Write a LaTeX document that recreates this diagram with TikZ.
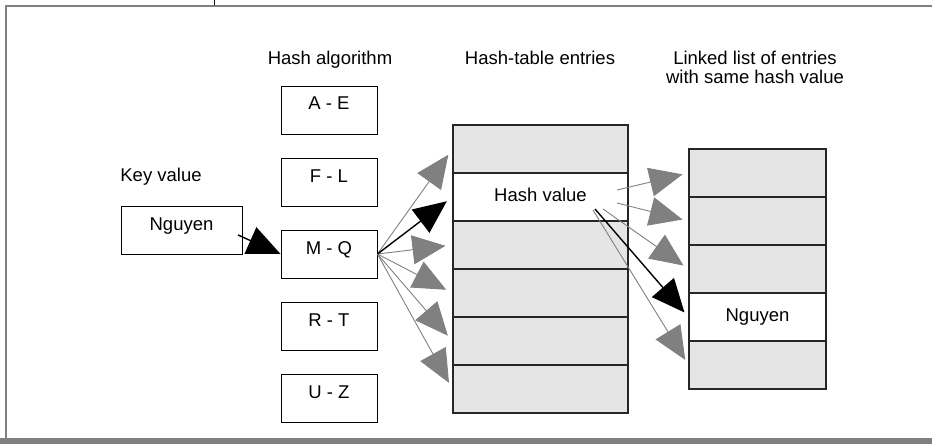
\documentclass[tikz,border=0pt]{standalone}
\usepackage{fontspec}
\setmainfont{Liberation Sans}
\usepackage{tikz}
\usetikzlibrary{positioning}
\usetikzlibrary{arrows.meta,calc}
\tikzstyle{rangebox}=[draw=black,line width=0.9pt,fill=white,minimum width=96pt,minimum height=48pt,inner sep=0pt,text height=13pt,text depth=13pt]
\tikzstyle{keybox}=[rangebox,minimum width=121pt]
\tikzstyle{tablerow}=[draw=black!85,line width=1.2pt,fill=black!10,minimum width=175pt,minimum height=48pt,inner sep=0pt,text height=13pt,text depth=5pt]
\tikzstyle{listrow}=[tablerow,minimum width=137pt]
\tikzstyle{title}=[inner sep=0pt,anchor=base]
\tikzstyle{grayedge}=[draw=gray,line width=0.9pt,-{Triangle[length=33pt,width=29pt]},gray]
\tikzstyle{blackedge}=[draw=black,line width=1.4pt,-{Triangle[length=33pt,width=29pt]}]

\begin{document}
\begin{tikzpicture}[x=1pt,y=-1pt,font=\fontsize{18.5}{19.5}\selectfont]
   \useasboundingbox (0,0) rectangle (932,444);

   % frame
   \draw[gray,line width=2.2pt] (6.3,438) -- (6.3,5.7) -- (932,5.7);
   \fill[gray] (0,437.5) rectangle (932,444);
   \draw[black,line width=0.6pt] (214,0) -- (214,5);

   % titles
   \node[title] (keytitle) at (161,181) {Key value};
   \node[title] (algtitle) at (330,65) {Hash algorithm};
   \node[title] (tabtitle) at (540,65) {Hash-table entries};
   \node[inner sep=0pt,anchor=north,align=center] (listtitle) at (755,50.5) {Linked list of entries\\with same hash value};

   % key and hash algorithm
   \node[keybox] (key) at (181.5,230) {Nguyen};
    \foreach \pos/\name/\label in {{(329,110)/ae/A - E}, {(329,182)/fl/F - L}, {(329,254)/mq/M - Q}, {(329,326)/rt/R - T}, {(329,398)/uz/U - Z}}
            \node[rangebox] (\name) at \pos {\label};

   % hash table
    \foreach \pos/\name in {{(540.5,149)/ht1}, {(540.5,197)/ht2}, {(540.5,245)/ht3}, {(540.5,293)/ht4}, {(540.5,341)/ht5}, {(540.5,389)/ht6}}
            \node[tablerow] (\name) at \pos {};
   \node[tablerow,fill=white] (hv) at (ht2) {Hash value};

   % linked list
    \foreach \pos/\name in {{(757.5,173)/ll1}, {(757.5,221)/ll2}, {(757.5,269)/ll3}, {(757.5,317)/ll4}, {(757.5,365)/ll5}}
            \node[listrow] (\name) at \pos {};
   \node[listrow,fill=white] (hit) at (ll4) {Nguyen};

   % arrows
   \coordinate (kstart) at (238,235);
   \draw[blackedge] (kstart) -- (mq.west);

    \foreach \dest in {ht1,ht3,ht4,ht5,ht6}
        \path[grayedge,shorten >=7pt] (mq.east) -- (\dest.west);
   \path[blackedge,shorten >=7pt] (mq.east) -- (hv.west);

   \coordinate (s1) at (617,190);
   \coordinate (s2) at (617,203);
   \coordinate (s3) at (603,209);
   \coordinate (s4) at (595,209);
   \coordinate (s5) at (593,210);
    \foreach \source/ \dest in {s1/ll1, s2/ll2, s3/ll3, s5/ll5}
        \path[grayedge,shorten >=6pt] (\source) -- (\dest.west);
   \path[blackedge,shorten >=6pt] (s4) -- (hit.west);

\end{tikzpicture}
\end{document}
